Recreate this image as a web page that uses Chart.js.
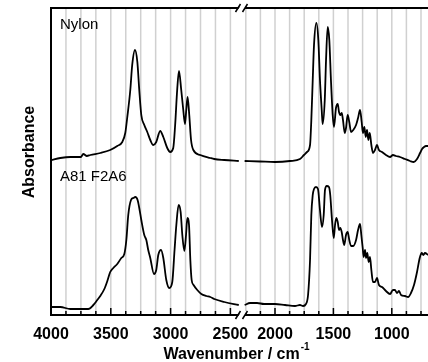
<!DOCTYPE html>
<html>
<head>
<meta charset="utf-8">
<script src="https://cdn.jsdelivr.net/npm/chart.js@4.4.1/dist/chart.umd.min.js"></script>
<style>
html, body { margin: 0; padding: 0; background: #fff; }
#wrap { width: 428px; height: 362px; }
</style>
</head>
<body>
<div id="wrap"><canvas id="ftir" width="428" height="362"></canvas></div>
<script>
// Wavenumbers (cm-1) and absorbance (a.u.), split at the axis break
const nylonWaveL = [4000,3922,3839,3750,3730,3700,3671,3588,3505,3446,3404,3379,3362,3337,3321,3298,3278,3262,3245,3220,3195,3170,3145,3120,3087,3061,3028,3003,2978,2962,2945,2930,2911,2894,2880,2869,2858,2844,2829,2810,2752,2668,2635,2551,2430];
const nylonAbsL = [155,157,158,158,161,159,160,162,165,169,173,182,198,225,250,265,253,225,200,190,183,175,170,173,184,178,167,163,167,190,225,244,225,205,191,205,218,200,175,165,160,157,156,155,154];
const nylonWaveR = [2260,2128,2000,1872,1786,1752,1726,1700,1689,1677,1666,1646,1629,1615,1600,1592,1574,1563,1549,1535,1521,1506,1495,1478,1463,1452,1441,1429,1418,1403,1392,1378,1364,1349,1330,1306,1289,1272,1258,1247,1235,1223,1212,1201,1189,1175,1161,1144,1127,1110,1084,1050,1015,990,964,930,887,844,812,784,758,741,724,707,690];
const nylonAbsR = [154,153.5,153,154,156,160,163,170,195,235,270,292,275,235,205,191,215,255,288,275,235,200,188,207,211,203,200,202,195,182,187,200,193,183,185,190,197,205,193,182,188,178,185,175,182,170,162,165,170,165,163,160,158,160,159,158,156,154,153,156,162,166,168,169,169];

const a81WaveL = [4000,3922,3839,3755,3688,3646,3613,3588,3554,3529,3505,3479,3446,3412,3387,3370,3354,3331,3312,3295,3276,3262,3245,3220,3203,3187,3170,3139,3120,3103,3080,3061,3036,3011,2986,2967,2952,2933,2916,2902,2885,2871,2860,2846,2835,2824,2808,2777,2743,2701,2668,2635,2551,2430];
const a81AbsL = [8,8,6,6,6,10,15,19,26,34,43,47,51,57,61,75,100,115,117,118,115,107,95,80,75,65,57,41,45,60,65,57,35,27,33,65,90,110,103,80,64,80,97,90,55,35,30,25,21,19,18,16,13,10];
const a81WaveR = [2260,2214,2154,2094,2000,1914,1829,1786,1760,1735,1717,1700,1689,1677,1666,1649,1632,1615,1598,1583,1572,1557,1538,1527,1512,1497,1486,1475,1463,1452,1441,1429,1418,1407,1392,1378,1364,1349,1330,1306,1289,1272,1261,1249,1241,1229,1221,1210,1198,1187,1175,1161,1144,1127,1110,1084,1050,1015,990,973,956,938,921,887,861,836,810,784,761,744,730,716,690];
const a81AbsR = [10,12,12,11,11,10,9,10,9,11,20,55,100,120,126,128,126,105,88,100,125,129,128,120,95,77,90,97,93,85,87,83,75,70,80,83,75,69,69,75,85,91,80,67,58,65,57,62,53,58,45,33,33,37,30,28,24,21,25,25,22,24,20,19,18,22,30,43,57,62,60,62,60];

// tick labels on each side of the break
const leftLabels = [4000, 3500, 3000, 2500];
const rightLabels = [2000, 1500, 1000];
const leftRange = [4000, 2407];
const rightRange = [2287, 690];

const FONT = '"Liberation Sans", Arial, sans-serif';

// broken axis: map wavenumber to a continuous coordinate
function toU(w, side) {
    if (side === 'L') return (4000 - w) * 0.1196;
    return 224 + (2000 - w) * 0.1168;
}
const breakU = 190.5;

function buildSeries(wl, al, wr, ar) {
    const pts = wl.map((w, i) => ({ x: toU(w, 'L'), y: al[i] }));
    pts.push({ x: breakU, y: null });
    wr.forEach((w, i) => pts.push({ x: toU(w, 'R'), y: ar[i] }));
    return pts;
}

function tickList() {
    const list = [];
    for (let w = leftRange[0]; w >= leftRange[1]; w -= 125) list.push({ w, u: toU(w, 'L') });
    for (let w = 2250; w >= rightRange[1]; w -= 125) list.push({ w, u: toU(w, 'R') });
    return list;
}

const brokenAxis = {
    id: 'brokenAxis',
    beforeDatasetsDraw(chart) {
        const { ctx, chartArea: a, scales: { x } } = chart;
        ctx.save();
        ctx.strokeStyle = '#d0d0d0';
        ctx.lineWidth = 1.5;
        tickList().forEach(t => {
            if (t.w === 4000) return;
            const px = x.getPixelForValue(t.u);
            ctx.beginPath();
            ctx.moveTo(px, a.top);
            ctx.lineTo(px, a.bottom);
            ctx.stroke();
        });
        ctx.restore();
    },
    afterDraw(chart) {
        const { ctx, chartArea: a, scales: { x } } = chart;
        ctx.save();

        // frame: left, top, bottom
        ctx.strokeStyle = '#000';
        ctx.lineWidth = 2;
        ctx.beginPath();
        ctx.moveTo(a.right, a.top);
        ctx.lineTo(a.left, a.top);
        ctx.lineTo(a.left, a.bottom);
        ctx.lineTo(a.right, a.bottom);
        ctx.stroke();

        // inward ticks
        ctx.lineWidth = 1.5;
        tickList().forEach(t => {
            const px = x.getPixelForValue(t.u);
            const len = t.w % 500 === 0 ? 7 : 4;
            ctx.beginPath();
            ctx.moveTo(px, a.bottom);
            ctx.lineTo(px, a.bottom - len);
            ctx.stroke();
        });

        // break marks on top and bottom axis
        const bp = x.getPixelForValue(breakU);
        [a.top, a.bottom].forEach(y => {
            ctx.fillStyle = '#fff';
            ctx.beginPath();
            ctx.moveTo(bp - 5, y + 4);
            ctx.lineTo(bp, y - 4);
            ctx.lineTo(bp + 6, y - 4);
            ctx.lineTo(bp + 1, y + 4);
            ctx.closePath();
            ctx.fill();
            ctx.strokeStyle = '#000';
            ctx.lineWidth = 1.5;
            ctx.beginPath();
            ctx.moveTo(bp - 6, y + 4);
            ctx.lineTo(bp - 1, y - 4);
            ctx.moveTo(bp + 1, y + 4);
            ctx.lineTo(bp + 6, y - 4);
            ctx.stroke();
        });

        // tick labels
        ctx.fillStyle = '#000';
        ctx.font = 'bold 16px ' + FONT;
        ctx.textAlign = 'center';
        ctx.textBaseline = 'alphabetic';
        leftLabels.forEach(w => ctx.fillText(String(w), x.getPixelForValue(toU(w, 'L')), a.bottom + 24));
        rightLabels.forEach(w => ctx.fillText(String(w), x.getPixelForValue(toU(w, 'R')), a.bottom + 24));

        // x title with superscript
        const main = 'Wavenumber / cm';
        const sup = '-1';
        ctx.font = 'bold 16px ' + FONT;
        const mw = ctx.measureText(main).width;
        ctx.font = 'bold 10px ' + FONT;
        const sw = ctx.measureText(sup).width;
        const startX = 236 - (mw + sw) / 2;
        ctx.textAlign = 'left';
        ctx.font = 'bold 16px ' + FONT;
        ctx.fillText(main, startX, a.bottom + 44);
        ctx.font = 'bold 10px ' + FONT;
        ctx.fillText(sup, startX + mw + 1, a.bottom + 35);

        // y title
        ctx.save();
        ctx.translate(34, 152);
        ctx.rotate(-Math.PI / 2);
        ctx.textAlign = 'center';
        ctx.font = 'bold 16px ' + FONT;
        ctx.fillText('Absorbance', 0, 0);
        ctx.restore();

        // sample labels
        ctx.font = '15px ' + FONT;
        ctx.textAlign = 'left';
        ctx.fillText('Nylon', 60, 29);
        ctx.fillText('A81 F2A6', 60, 181);

        ctx.restore();
    }
};

new Chart(document.getElementById('ftir'), {
    type: 'line',
    data: {
        datasets: [
            {
                label: 'Nylon',
                data: buildSeries(nylonWaveL, nylonAbsL, nylonWaveR, nylonAbsR),
                borderColor: '#000',
                borderWidth: 1.8,
                pointRadius: 0,
                cubicInterpolationMode: 'monotone',
                spanGaps: false
            },
            {
                label: 'A81 F2A6',
                data: buildSeries(a81WaveL, a81AbsL, a81WaveR, a81AbsR),
                borderColor: '#000',
                borderWidth: 1.8,
                pointRadius: 0,
                cubicInterpolationMode: 'monotone',
                spanGaps: false
            }
        ]
    },
    options: {
        responsive: false,
        animation: false,
        devicePixelRatio: 1,
        layout: { padding: { left: 51, top: 8, right: 0, bottom: 47 } },
        plugins: { legend: { display: false }, tooltip: { enabled: false } },
        scales: {
            x: { type: 'linear', min: 0, max: 377, display: false },
            y: { min: 0, max: 307, display: false }
        }
    },
    plugins: [brokenAxis]
});
</script>
</body>
</html>
